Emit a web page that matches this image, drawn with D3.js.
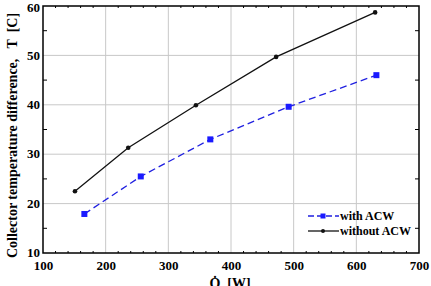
<!DOCTYPE html>
<html lang="en">
<head>
    <meta charset="UTF-8">
    <title>Collector temperature difference</title>
    <script src="https://d3js.org/d3.v7.min.js"></script>
    <style>
        body { margin: 0; background: #fff; }
        svg text { font-family: "Liberation Serif", serif; font-weight: bold; }
    </style>
</head>
<body>
    <div id="chart"></div>
    <script>
        // data
        const withQ = [166, 256, 367, 492, 632];
        const withT = [17.9, 25.5, 33.0, 39.6, 46.0];
        const withoutQ = [151, 236, 344, 472, 630];
        const withoutT = [22.5, 31.3, 39.9, 49.7, 58.7];
        const xTicks = [100, 200, 300, 400, 500, 600, 700];
        const yTicks = [10, 20, 30, 40, 50, 60];

        const W = 431, H = 286;
        const margin = { top: 6, right: 12, bottom: 33, left: 43 };
        const width = W - margin.left - margin.right;
        const height = H - margin.top - margin.bottom;

        const svg = d3.select("#chart").append("svg")
            .attr("width", W).attr("height", H);
        const g = svg.append("g")
            .attr("transform", "translate(" + margin.left + "," + margin.top + ")");

        const x = d3.scaleLinear().domain([100, 700]).range([0, width]);
        const y = d3.scaleLinear().domain([10, 60]).range([height, 0]);

        // grid
        g.append("g").selectAll("line").data(xTicks.slice(1, -1)).join("line")
            .attr("x1", d => x(d)).attr("x2", d => x(d))
            .attr("y1", 0).attr("y2", height)
            .attr("stroke", "#c8c8c8").attr("stroke-width", 1);
        g.append("g").selectAll("line").data(yTicks.slice(1, -1)).join("line")
            .attr("y1", d => y(d)).attr("y2", d => y(d))
            .attr("x1", 0).attr("x2", width)
            .attr("stroke", "#c8c8c8").attr("stroke-width", 1);

        // minor ticks, inward on all four sides
        const xMinor = d3.range(120, 700, 20).filter(v => v % 100 !== 0);
        const yMinor = [15, 25, 35, 45, 55];
        function ticksOn(sel, vals, len, horiz, atEdge) {
            sel.selectAll(null).data(vals).join("line")
                .attr("x1", d => horiz ? x(d) : atEdge)
                .attr("x2", d => horiz ? x(d) : atEdge + len)
                .attr("y1", d => horiz ? atEdge : y(d))
                .attr("y2", d => horiz ? atEdge + len : y(d))
                .attr("stroke", "#000").attr("stroke-width", 1);
        }
        const tg = g.append("g");
        ticksOn(tg, xMinor, -2, true, height);
        ticksOn(tg, xMinor, 2, true, 0);
        ticksOn(tg, yMinor, 4, false, 0);
        ticksOn(tg, yMinor, -4, false, width);

        // axes
        const xAxis = g.append("g")
            .attr("transform", "translate(0," + height + ")")
            .call(d3.axisBottom(x).tickValues(xTicks).tickSize(0).tickPadding(8));
        const yAxis = g.append("g")
            .call(d3.axisLeft(y).tickValues(yTicks).tickSize(0).tickPadding(3));
        [xAxis, yAxis].forEach(a => {
            a.attr("font-family", null).attr("font-size", null);
            a.select(".domain").remove();
            a.selectAll("text").attr("font-size", 13).attr("fill", "#000");
        });
        yAxis.selectAll("text").attr("dy", d => d === 60 ? "0.45em" : "0.28em");

        // frame
        g.append("rect").attr("width", width).attr("height", height)
            .attr("fill", "none").attr("stroke", "#000").attr("stroke-width", 1.5);

        const line = d3.line().x(d => x(d[0])).y(d => y(d[1]));
        const withData = withQ.map((q, i) => [q, withT[i]]);
        const withoutData = withoutQ.map((q, i) => [q, withoutT[i]]);

        g.append("path").datum(withoutData).attr("d", line)
            .attr("fill", "none").attr("stroke", "#111").attr("stroke-width", 1.3);
        g.append("g").selectAll("circle").data(withoutData).join("circle")
            .attr("cx", d => x(d[0])).attr("cy", d => y(d[1])).attr("r", 2.3)
            .attr("fill", "#111");

        g.append("path").datum(withData).attr("d", line)
            .attr("fill", "none").attr("stroke", "#2020e0").attr("stroke-width", 1.3)
            .attr("stroke-dasharray", "7,4");
        g.append("g").selectAll("rect").data(withData).join("rect")
            .attr("x", d => x(d[0]) - 3).attr("y", d => y(d[1]) - 3)
            .attr("width", 6).attr("height", 6).attr("fill", "#1a1aff");

        // legend
        const lg = svg.append("g").attr("transform", "translate(308,216)");
        lg.append("line").attr("x1", 0).attr("x2", 31).attr("y1", 0).attr("y2", 0)
            .attr("stroke", "#2020e0").attr("stroke-width", 1.3).attr("stroke-dasharray", "6,3");
        lg.append("rect").attr("x", 12.5).attr("y", -2.5).attr("width", 5).attr("height", 5).attr("fill", "#1a1aff");
        lg.append("text").attr("x", 32).attr("y", 4).attr("font-size", 12).text("with ACW");
        lg.append("line").attr("x1", 0).attr("x2", 31).attr("y1", 15).attr("y2", 15)
            .attr("stroke", "#111").attr("stroke-width", 1.3);
        lg.append("circle").attr("cx", 15).attr("cy", 15).attr("r", 2).attr("fill", "#111");
        lg.append("text").attr("x", 32).attr("y", 19).attr("font-size", 12).text("without ACW");

        // axis titles
        svg.append("text")
            .attr("transform", "translate(17," + (margin.top + height / 2 + 6) + ") rotate(-90)")
            .attr("text-anchor", "middle").attr("font-size", 14)
            .attr("xml:space", "preserve")
            .text("Collector temperature difference,   T  [C]");
        svg.append("text")
            .attr("x", 230).attr("y", 288)
            .attr("text-anchor", "middle").attr("font-size", 14)
            .attr("xml:space", "preserve")
            .text("Q\u0307  [W]");
    </script>
</body>
</html>
